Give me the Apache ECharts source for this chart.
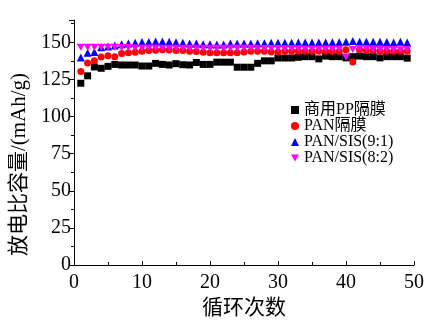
<!DOCTYPE html>
<html>
<head>
<meta charset="utf-8">
<script src="https://cdn.jsdelivr.net/npm/echarts@6/dist/echarts.min.js"></script>
<style>
html, body { margin: 0; padding: 0; background: #fff; }
#chart { width: 428px; height: 324px; }
</style>
</head>
<body>
<div id="chart"></div>
<script>
// 循环次数 1..49
var cycles = [];
for (var i = 1; i <= 49; i++) cycles.push(i);

var names = ['商用PP隔膜', 'PAN隔膜', 'PAN/SIS(9:1)', 'PAN/SIS(8:2)'];

var ppData = [122.4, 127.4, 133.4, 132.5, 133.8, 135.1, 134.7, 134.7, 134.7, 134, 134, 135.8, 135.1, 134.7, 135.6, 134.9, 134.7, 136.4, 135.1, 135.1,
    136.6, 136.6, 136.6, 133.2, 133.2, 133.2, 135.8, 137.5, 137.5, 139.4, 139.4, 139.4, 139.9, 140.3, 140.3, 138.8, 140.7, 140.3, 140.3, 139.5,
    140.3, 140.7, 140.3, 140.3, 139.5, 140.3, 140.3, 140.3, 139.3];
var panData = [130.4, 136, 137.5, 140, 141, 140.3, 142.5, 142.9, 143.3, 144, 144.4, 144.6, 145, 144.8, 144.4, 144.4, 144, 143.8, 143.3, 142.9,
    142.9, 142.9, 142.9, 142.9, 143.5, 144, 144, 144, 143.5, 143.5, 144, 144, 144, 144, 144, 144, 144, 144, 144, 144.9,
    136.7, 145, 144.4, 144.4, 144, 144, 144, 144, 144];
var sis91Data = [139.7, 142.9, 143.5, 146.6, 147.2, 147.8, 148.6, 149.2, 149.7, 150.2, 150.2, 150.6, 150.6, 150.4, 150, 149.7, 149.1, 149.1, 148.7, 148.7,
    148.5, 148.5, 149.1, 149.1, 149.1, 149.1, 149.4, 149.4, 149.7, 149.7, 149.7, 149.7, 149.9, 149.9, 149.9, 149.9, 149.9, 150, 150, 150.4,
    150.8, 150.4, 150.4, 150.4, 150.4, 150.2, 149.9, 150.4, 149.9];
var sis82Data = [146.6, 146.6, 146.6, 146.6, 146.6, 146.6, 146.4, 146.4, 146.2, 146.2, 146.2, 146.2, 146, 146, 146, 146, 146, 146, 146, 146,
    146, 146, 146, 146, 146, 146, 146, 145.8, 145.8, 145.8, 145.6, 145.6, 145.6, 145.4, 145.4, 145.4, 145.4, 145.4, 145.4, 140,
    145.2, 145.8, 145.6, 145.2, 145.2, 145.2, 145, 145, 145];

var downTri = 'path://M0,0L10,0L5,9Z';

function pairs(arr) {
    return arr.map(function (v, k) { return [cycles[k], v]; });
}

var font = '"Liberation Serif", "Noto Sans CJK SC", serif';
var chart = echarts.init(document.getElementById('chart'));
var option = {
    animation: false,
    grid: { left: 74, right: 14, top: 20, bottom: 52 },
    legend: {
        orient: 'vertical',
        left: 286,
        top: 97,
        itemWidth: 8,
        itemHeight: 8,
        itemGap: 0,
        textStyle: { fontFamily: font, fontSize: 16, lineHeight: 16, color: '#000' },
        data: [
            { name: names[0], icon: 'rect' },
            { name: names[1], icon: 'circle' },
            { name: names[2], icon: 'triangle' },
            { name: names[3], icon: downTri }
        ]
    },
    xAxis: {
        type: 'value',
        min: 0, max: 50, interval: 10,
        name: '循环次数',
        nameLocation: 'middle',
        nameGap: 33,
        nameTextStyle: { fontFamily: font, fontSize: 21, color: '#000' },
        axisLine: { lineStyle: { color: '#000', width: 1 } },
        axisTick: { inside: true, length: 4, lineStyle: { color: '#000' } },
        minorTick: { show: true, splitNumber: 2, length: 3, lineStyle: { color: '#000' } },
        axisLabel: { fontFamily: font, fontSize: 20, color: '#000', margin: 8 },
        splitLine: { show: false }
    },
    yAxis: {
        type: 'value',
        min: 0, max: 165, interval: 25,
        name: '放电比容量/(mAh/g)',
        nameLocation: 'middle',
        nameGap: 42,
        nameTextStyle: { fontFamily: font, fontSize: 21, color: '#000', padding: [0, 44, 0, 0] },
        axisLine: { show: true, lineStyle: { color: '#000', width: 1 } },
        axisTick: { length: 5, lineStyle: { color: '#000' } },
        minorTick: { show: true, splitNumber: 2, length: 3, lineStyle: { color: '#000' } },
        axisLabel: { fontFamily: font, fontSize: 20, color: '#000', margin: 3, showMaxLabel: false },
        splitLine: { show: false }
    },
    series: [
        { name: names[0], type: 'scatter', symbol: 'rect', symbolSize: 7, itemStyle: { color: '#000', opacity: 1 }, data: pairs(ppData) },
        { name: names[1], type: 'scatter', symbol: 'circle', symbolSize: 7, itemStyle: { color: '#ff0000', opacity: 1 }, data: pairs(panData) },
        { name: names[2], type: 'scatter', symbol: 'triangle', symbolSize: 8, itemStyle: { color: '#0000ff', opacity: 1 }, data: pairs(sis91Data) },
        { name: names[3], type: 'scatter', symbol: downTri, symbolSize: [8, 7], itemStyle: { color: '#ff00ff', opacity: 1 }, data: pairs(sis82Data) }
    ]
};
chart.setOption(option);
</script>
</body>
</html>
